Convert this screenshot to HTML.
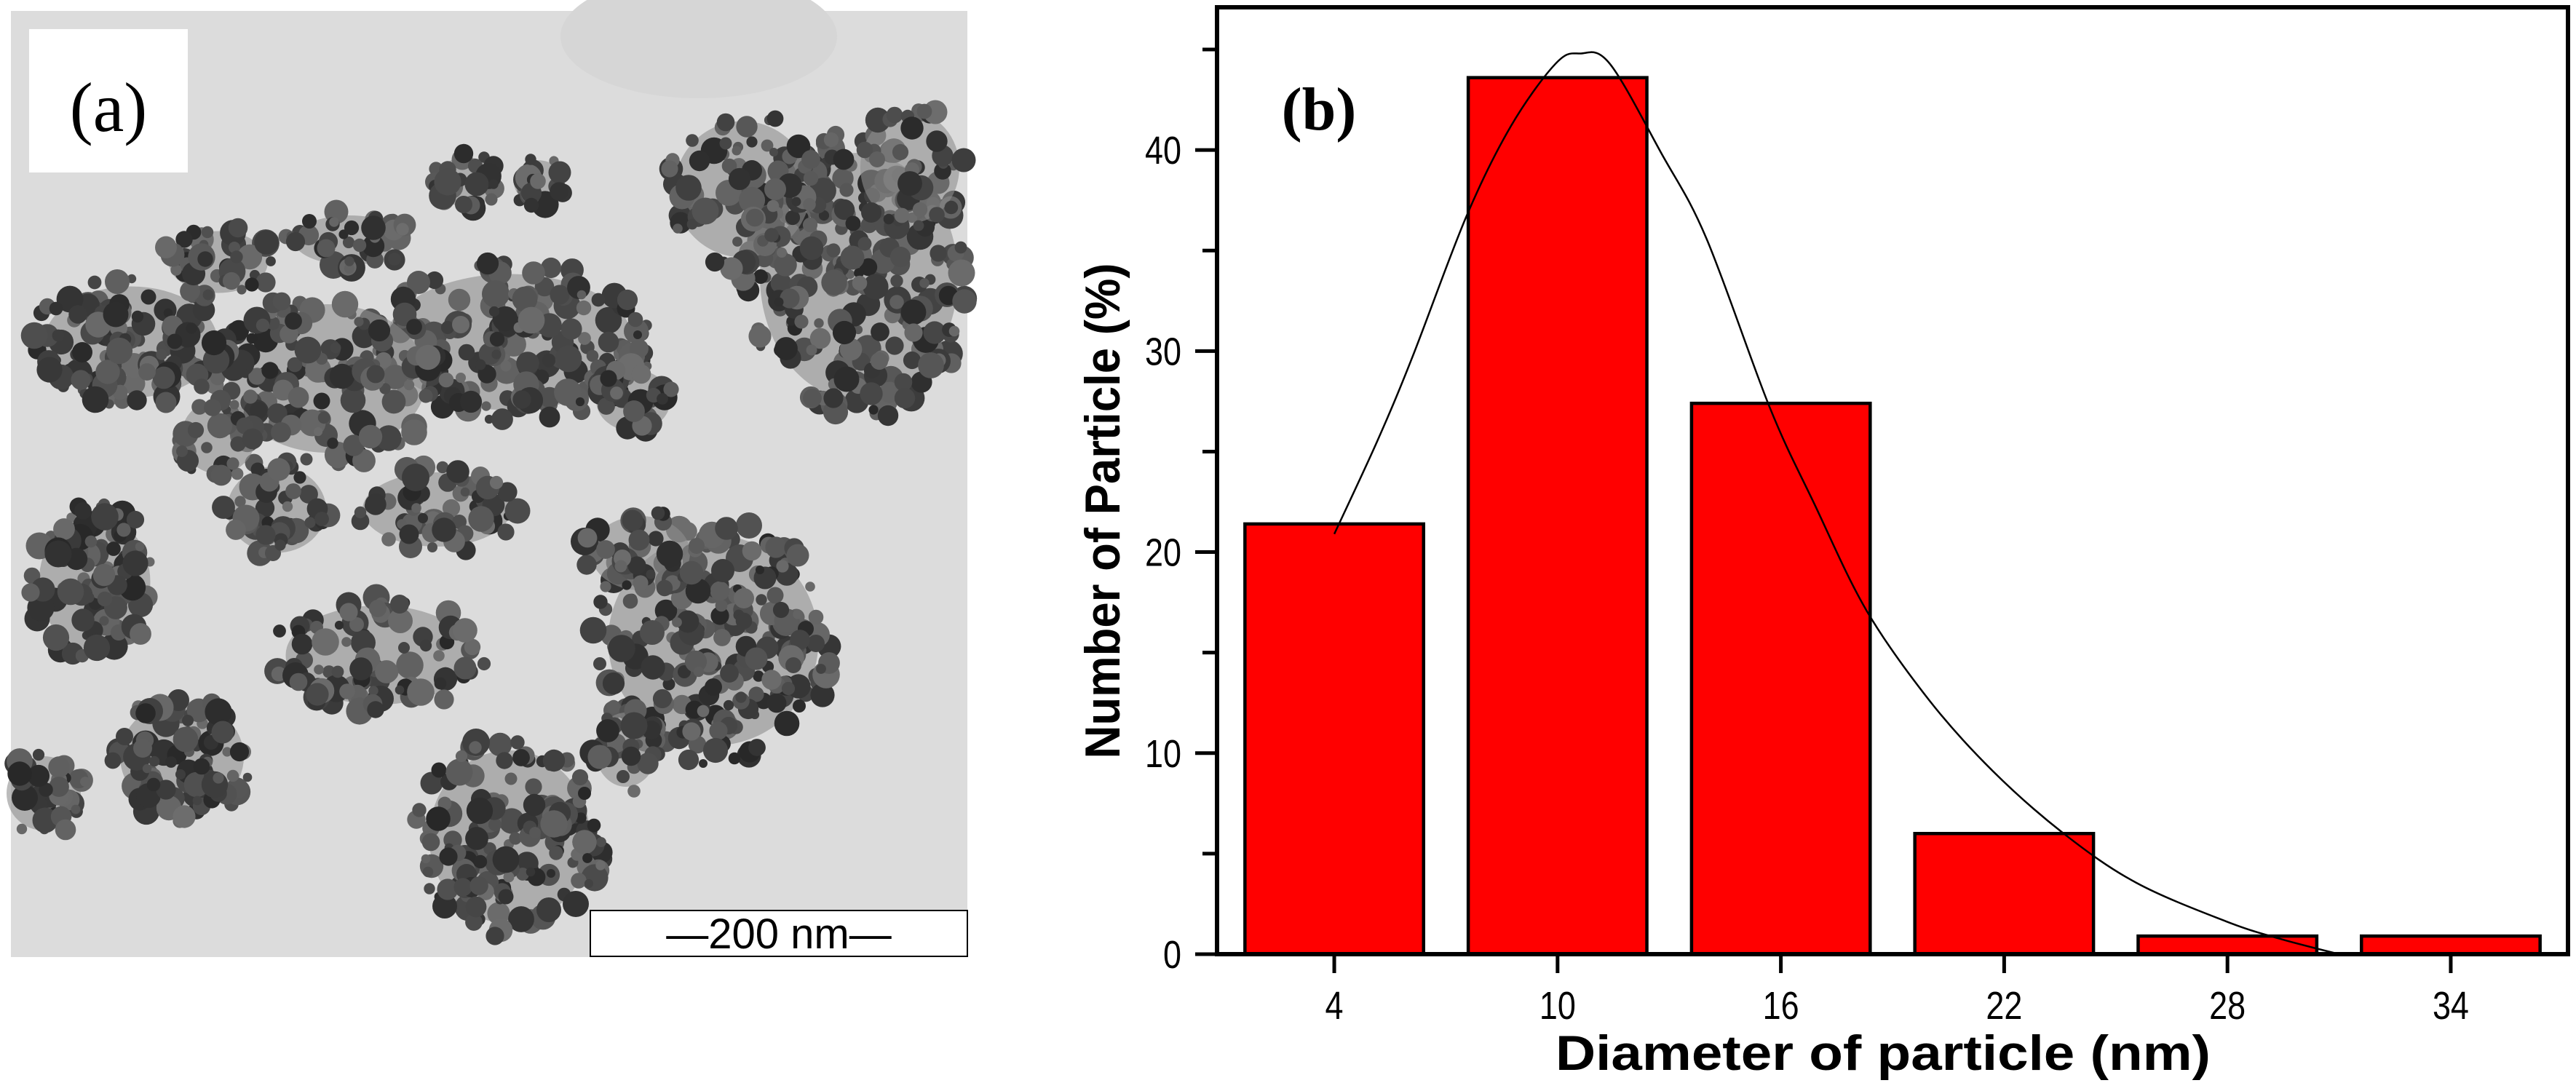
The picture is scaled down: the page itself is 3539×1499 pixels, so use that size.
<!DOCTYPE html>
<html><head><meta charset="utf-8"><style>
html,body{margin:0;padding:0;background:#fff}
svg{display:block}
</style></head><body>
<svg id="fig" width="3539" height="1499" viewBox="0 0 3539 1499" xmlns="http://www.w3.org/2000/svg">
<g id="panel-a">
<rect x="15" y="15" width="1314" height="1300" fill="#dcdcdc"/>
<ellipse cx="960" cy="50" rx="190" ry="85" fill="#d6d6d6"/>
<g id="blobs"></g>
<rect x="40" y="40" width="218" height="197" fill="#fff"/>
<text x="149" y="180" font-family="Liberation Serif, serif" font-size="96" text-anchor="middle">(a)</text>
<rect x="811" y="1251" width="518" height="63" fill="#fff" stroke="#000" stroke-width="2"/>
<text x="1070" y="1303" font-family="Liberation Sans, sans-serif" font-size="58" text-anchor="middle">—200 nm—</text>
</g>
<g id="panel-b"></g>
</svg>
<script>
// ---- chart data ----
const categories = [4, 10, 16, 22, 28, 34];
const barValues = [21.4, 43.6, 27.4, 6.0, 0.9, 0.9];
const yTickLabels = [0, 10, 20, 30, 40];
const xTickLabels = [4, 10, 16, 22, 28, 34];
const fitX = [4, 5.15, 6.1, 7.55, 8.75, 9.95, 10.6, 11.4, 12.8, 14.0, 15.7, 16.9, 18.3, 20.0, 21.7, 23.6, 25.55, 27.95, 29.4, 31];
const fitY = [20.9, 25.5, 29.7, 36.7, 41.2, 44.3, 44.8, 44.3, 39.8, 35.6, 27.2, 22.4, 17.1, 12.6, 9.1, 6.0, 3.55, 1.64, 0.77, 0];

const NS = 'http://www.w3.org/2000/svg';
const L = 1672, R = 3528, T = 10, B = 1311;
const xMin = 0.85, xMax = 37.15, yMin = 0, yMax = 47.1;
function xs(v){ return L + (v - xMin) / (xMax - xMin) * (R - L); }
function ys(v){ return B - (v - yMin) / (yMax - yMin) * (B - T); }
function mk(tag, attrs, parent){ const e = document.createElementNS(NS, tag); for (const k in attrs) e.setAttribute(k, attrs[k]); parent.appendChild(e); return e; }

const pb = document.getElementById('panel-b');
const barW = 4.8;
categories.forEach((c, i) => {
  const r = mk('rect', {x: xs(c - barW/2), y: ys(barValues[i]), width: xs(c + barW/2) - xs(c - barW/2), height: ys(0) - ys(barValues[i]), fill: '#ff0000', stroke: '#000', 'stroke-width': 4.5}, pb);
  
  
});
// smooth curve (Catmull-Rom -> Bezier)
const P = fitX.map((x, i) => [xs(x), ys(fitY[i])]);
let d = 'M' + P[0][0].toFixed(1) + ' ' + P[0][1].toFixed(1);
for (let i = 0; i < P.length - 1; i++) {
  const p0 = P[Math.max(0, i - 1)], p1 = P[i], p2 = P[i + 1], p3 = P[Math.min(P.length - 1, i + 2)];
  const c1 = [p1[0] + (p2[0] - p0[0]) / 6, p1[1] + (p2[1] - p0[1]) / 6];
  const c2 = [p2[0] - (p3[0] - p1[0]) / 6, p2[1] - (p3[1] - p1[1]) / 6];
  d += 'C' + c1[0].toFixed(1) + ' ' + c1[1].toFixed(1) + ' ' + c2[0].toFixed(1) + ' ' + c2[1].toFixed(1) + ' ' + p2[0].toFixed(1) + ' ' + p2[1].toFixed(1);
}
const fl = mk('path', {d: d, fill: 'none', stroke: '#000', 'stroke-width': 2.5, 'stroke-linejoin': 'round'}, pb);



const fr = mk('rect', {x: L, y: T, width: R - L, height: B - T, fill: 'none', stroke: '#000', 'stroke-width': 6}, pb);



for (let v = 0; v <= 45; v += 5) {
  const major = v % 10 === 0;
  const t = mk('line', {x1: L - (major ? 30 : 20), x2: L, y1: ys(v), y2: ys(v), stroke: '#000', 'stroke-width': 5}, pb);
  
  
}
yTickLabels.forEach(v => {
  const t = mk('text', {x: 1623, y: ys(v) + 19, 'font-family': 'Liberation Sans, sans-serif', 'font-size': 54, 'text-anchor': 'end', textLength: String(v).length * 25, lengthAdjust: 'spacingAndGlyphs'}, pb);
  t.textContent = v;
  
  
});
xTickLabels.forEach(v => {
  const t = mk('line', {x1: xs(v), x2: xs(v), y1: B, y2: B + 26, stroke: '#000', 'stroke-width': 5}, pb);
  
  
  const lb = mk('text', {x: xs(v), y: 1400, 'font-family': 'Liberation Sans, sans-serif', 'font-size': 54, 'text-anchor': 'middle', textLength: String(v).length * 25, lengthAdjust: 'spacingAndGlyphs'}, pb);
  lb.textContent = v;
  
  
});
const xt = mk('text', {x: 2587, y: 1470, 'font-family': 'Liberation Sans, sans-serif', 'font-weight': 'bold', 'font-size': 68, 'text-anchor': 'middle', textLength: 900, lengthAdjust: 'spacingAndGlyphs'}, pb);
xt.textContent = 'Diameter of particle (nm)';


const yt = mk('text', {x: 0, y: 0, transform: 'translate(1538,702) rotate(-90)', 'font-family': 'Liberation Sans, sans-serif', 'font-weight': 'bold', 'font-size': 68, 'text-anchor': 'middle', textLength: 681, lengthAdjust: 'spacingAndGlyphs'}, pb);
yt.textContent = 'Number of Particle (%)';


const bl = mk('text', {x: 1812, y: 178, 'font-family': 'Liberation Serif, serif', 'font-weight': 'bold', 'font-size': 84, 'text-anchor': 'middle'}, pb);
bl.textContent = '(b)';



// ---- TEM image texture (decorative) ----
const bg = document.getElementById('blobs');
const clusters = [
  [1180,380,160,200,260],[1020,260,110,110,90],[1250,230,80,90,40],
  [700,470,200,110,180],[450,520,160,120,140],[180,470,140,90,110],
  [300,360,80,50,40],[480,330,90,40,40],[640,250,50,40,25],[740,250,40,35,20],
  [980,880,170,170,230],[880,760,80,60,40],[700,1150,130,140,160],[520,900,150,80,90],
  [130,800,90,110,90],[250,1040,100,90,90],[60,1090,60,60,40],[380,700,80,70,50],[860,1030,50,60,30],
  [600,700,120,60,60],[300,600,60,60,30],[870,550,60,50,30]
];
let seed = 12345;
function rnd(){ seed = (seed * 1103515245 + 12345) % 2147483648; return seed / 2147483648; }
clusters.forEach(c => {
  mk('ellipse', {cx: c[0], cy: c[1], rx: c[2]*0.85, ry: c[3]*0.85, fill: '#8e8e8e', opacity: 0.6}, bg);
  for (let i = 0; i < c[4]; i++) {
    const a = rnd() * 6.283, r = Math.sqrt(rnd());
    const x = c[0] + Math.cos(a) * r * c[2], y = c[1] + Math.sin(a) * r * c[3];
    if (x < 18 || x > 1326 || y < 18 || y > 1312) continue;
    const g = Math.floor(40 + rnd() * 70);
    mk('circle', {cx: x.toFixed(0), cy: y.toFixed(0), r: (6 + rnd() * 13).toFixed(1), fill: 'rgb(' + g + ',' + g + ',' + g + ')'}, bg);
  }
});
</script>
</body></html>
